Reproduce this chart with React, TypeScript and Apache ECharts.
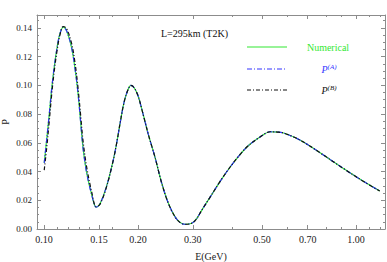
import React, { useEffect, useRef } from "react";
import * as echarts from "echarts";

// Energy grid (GeV) and probabilities
const energies = [
  0.1002, 0.102, 0.104, 0.1058, 0.1079, 0.1103, 0.1125, 0.1153, 0.1182, 0.1227,
  0.1257, 0.1279, 0.1297, 0.1315, 0.1335, 0.1371, 0.1422, 0.1471, 0.1512, 0.1588,
  0.1668, 0.1714, 0.1752, 0.1805, 0.1859, 0.19, 0.1943, 0.2001, 0.2061, 0.2107,
  0.2159, 0.2269, 0.2384, 0.2503, 0.2629, 0.2728, 0.2831, 0.2974, 0.3086, 0.3202,
  0.3404, 0.3665, 0.3946, 0.4248, 0.4516, 0.4924, 0.5313, 0.56, 0.5865, 0.6629,
  0.7879, 0.9132, 1.0585, 1.1912,
];
const numerical = [
  0.046, 0.062, 0.08, 0.097, 0.113, 0.127, 0.136, 0.1405, 0.138, 0.126,
  0.112, 0.099, 0.086, 0.071, 0.056, 0.039, 0.024, 0.0152, 0.0175, 0.03,
  0.048, 0.061, 0.073, 0.088, 0.097, 0.1, 0.0985, 0.093, 0.083, 0.075,
  0.066, 0.05, 0.032, 0.018, 0.0086, 0.0046, 0.0033, 0.004, 0.0072, 0.013,
  0.022, 0.033, 0.043, 0.0518, 0.058, 0.064, 0.0677, 0.0675, 0.0668, 0.0618,
  0.0514, 0.042, 0.033, 0.0265,
];
const approxA = [
  0.046, 0.062, 0.08, 0.097, 0.113, 0.127, 0.136, 0.1405, 0.138, 0.126,
  0.112, 0.099, 0.086, 0.071, 0.056, 0.039, 0.024, 0.0152, 0.0175, 0.03,
  0.048, 0.061, 0.073, 0.088, 0.097, 0.1, 0.0985, 0.093, 0.083, 0.075,
  0.066, 0.05, 0.032, 0.018, 0.0086, 0.0046, 0.0033, 0.004, 0.0072, 0.013,
  0.022, 0.033, 0.043, 0.0518, 0.058, 0.064, 0.0677, 0.0675, 0.0668, 0.0618,
  0.0514, 0.042, 0.033, 0.0265,
];
const approxB = [
  0.041, 0.056, 0.075, 0.093, 0.11, 0.125, 0.135, 0.141, 0.1395, 0.129,
  0.116, 0.103, 0.09, 0.076, 0.061, 0.043, 0.026, 0.0155, 0.0172, 0.0295,
  0.048, 0.061, 0.073, 0.088, 0.097, 0.1, 0.0985, 0.093, 0.083, 0.075,
  0.066, 0.05, 0.032, 0.018, 0.0086, 0.0046, 0.0033, 0.004, 0.0072, 0.013,
  0.022, 0.033, 0.043, 0.0518, 0.058, 0.064, 0.0677, 0.0675, 0.0668, 0.0618,
  0.0514, 0.042, 0.033, 0.0265,
];

const xMajor = [0.1, 0.15, 0.2, 0.3, 0.5, 0.7, 1.0];
const xMinor = [0.11, 0.12, 0.13, 0.14, 0.165, 0.4, 0.6, 0.8, 0.9, 1.1, 1.2];
const yMajor = [0, 0.02, 0.04, 0.06, 0.08, 0.1, 0.12, 0.14];
const yMinor = [
  0.005, 0.01, 0.015, 0.025, 0.03, 0.035, 0.045, 0.05, 0.055, 0.065, 0.07, 0.075,
  0.085, 0.09, 0.095, 0.105, 0.11, 0.115, 0.125, 0.13, 0.135, 0.145,
];
const xRange = [0.095, 1.2386];
const yRange = [0, 0.149];

const titleText = "L=295km (T2K)";
const legendNames = ["Numerical", "P^(A)", "P^(B)"];

const GREEN = "#33e833";
const BLUE = "#3535ff";
const BLACK = "#111111";
const AXIS = "#8c8c8c";
const FONT = "Liberation Serif";

const lg = (v: number) => Math.log10(v);

export default function App() {
  const ref = useRef<HTMLDivElement>(null);
  useEffect(() => {
    if (!ref.current) return;
    const chart = echarts.init(ref.current, null, { renderer: "svg" });
    const xBase = (position: string, ticks: number[], len: number, withLabels: boolean, showLine: boolean) => ({
      type: "value",
      position,
      min: lg(xRange[0]),
      max: lg(xRange[1]),
      axisLine: { show: showLine, onZero: false, lineStyle: { color: AXIS, width: 1 } },
      axisTick: {
        show: true,
        inside: true,
        length: len,
        customValues: ticks.map(lg),
        lineStyle: { color: AXIS, width: 1 },
      },
      axisLabel: withLabels
        ? {
            show: true,
            customValues: ticks.map(lg),
            formatter: (v: number) => Math.pow(10, v).toFixed(2),
            fontFamily: FONT,
            fontSize: 10,
            color: "#222",
            margin: 5,
          }
        : { show: false },
      splitLine: { show: false },
    });
    const yBase = (position: string, ticks: number[], len: number, withLabels: boolean, showLine: boolean) => ({
      type: "value",
      position,
      min: yRange[0],
      max: yRange[1],
      axisLine: { show: showLine, onZero: false, lineStyle: { color: AXIS, width: 1 } },
      axisTick: {
        show: true,
        inside: true,
        length: len,
        customValues: ticks,
        lineStyle: { color: AXIS, width: 1 },
      },
      axisLabel: withLabels
        ? {
            show: true,
            customValues: ticks,
            formatter: (v: number) => v.toFixed(2),
            fontFamily: FONT,
            fontSize: 9,
            color: "#222",
            margin: 5,
          }
        : { show: false },
      splitLine: { show: false },
    });

    const xAxes: any[] = [
      {
        ...xBase("bottom", xMajor, 4, true, true),
        name: "E(GeV)",
        nameLocation: "middle",
        nameGap: 22,
        nameMoveOverlap: false,
        nameTextStyle: { fontFamily: FONT, fontSize: 10, color: "#222" },
      },
      xBase("bottom", xMinor, 2, false, false),
      xBase("top", xMajor, 4, false, true),
      xBase("top", xMinor, 2, false, false),
    ];
    const yAxes: any[] = [
      {
        ...yBase("left", yMajor, 4, true, true),
        name: "P",
        nameLocation: "middle",
        nameGap: 27,
        nameRotate: 90,
        nameMoveOverlap: false,
        nameTextStyle: { fontFamily: FONT, fontSize: 10, color: "#222" },
      },
      yBase("left", yMinor, 2, false, false),
      yBase("right", yMajor, 4, false, true),
      yBase("right", yMinor, 2, false, false),
    ];

    const mk = (vals: number[]) => energies.map((e, i) => [lg(e), vals[i]]);
    const lineSeries = (name: string, vals: number[], color: string, type: any) => ({
      name,
      type: "line",
      xAxisIndex: 0,
      yAxisIndex: 0,
      data: mk(vals),
      showSymbol: false,
      smooth: 0.35,
      lineStyle: { color, width: 1.2, type },
      z: 2,
    });

    const legendLine = (y: number, color: string, dash: number[] | null) => ({
      type: "line",
      shape: { x1: 247, y1: y, x2: 287, y2: y },
      style: { stroke: color, lineWidth: 1.2, lineDash: dash || undefined },
    });

    chart.setOption({
      animation: false,
      grid: { left: 37, right: 2, top: 15, bottom: 33, containLabel: false, outerBoundsMode: "none" },
      xAxis: xAxes,
      yAxis: yAxes,
      series: [
        lineSeries(legendNames[0], numerical, GREEN, "solid"),
        lineSeries(legendNames[1], approxA, BLUE, [5, 2, 1, 2]),
        lineSeries(legendNames[2], approxB, BLACK, [4, 2, 1, 2]),
      ],
      graphic: [
        {
          type: "text",
          x: 161,
          y: 33,
          style: {
            text: titleText,
            fontFamily: FONT,
            fontSize: 10,
            fill: "#111",
            verticalAlign: "middle",
          },
        },
        legendLine(47, GREEN, null),
        legendLine(69, BLUE, [5, 2, 1, 2]),
        legendLine(90, BLACK, [4, 2, 1, 2]),
        {
          type: "text",
          x: 328,
          y: 47,
          style: {
            text: legendNames[0],
            fontFamily: FONT,
            fontSize: 10,
            fill: GREEN,
            align: "center",
            verticalAlign: "middle",
          },
        },
        {
          type: "text",
          x: 329,
          y: 69,
          style: {
            text: "{p|P}{s|(A)}",
            align: "center",
            verticalAlign: "middle",
            rich: {
              p: { fontFamily: FONT, fontSize: 10, fontStyle: "italic", fill: BLUE, color: BLUE },
              s: { fontFamily: FONT, fontSize: 7, fontStyle: "italic", fill: BLUE, color: BLUE, verticalAlign: "top", padding: [0, 0, 5, 0] },
            },
          },
        },
        {
          type: "text",
          x: 329,
          y: 90,
          style: {
            text: "{p|P}{s|(B)}",
            align: "center",
            verticalAlign: "middle",
            rich: {
              p: { fontFamily: FONT, fontSize: 10, fontStyle: "italic", fill: BLACK, color: BLACK },
              s: { fontFamily: FONT, fontSize: 7, fontStyle: "italic", fill: BLACK, color: BLACK, verticalAlign: "top", padding: [0, 0, 5, 0] },
            },
          },
        },
      ],
    });
    return () => chart.dispose();
  }, []);
  return (
    <div
      ref={ref}
      style={{ position: "fixed", left: 0, top: 0, width: 387, height: 262, background: "#fff" }}
    />
  );
}
